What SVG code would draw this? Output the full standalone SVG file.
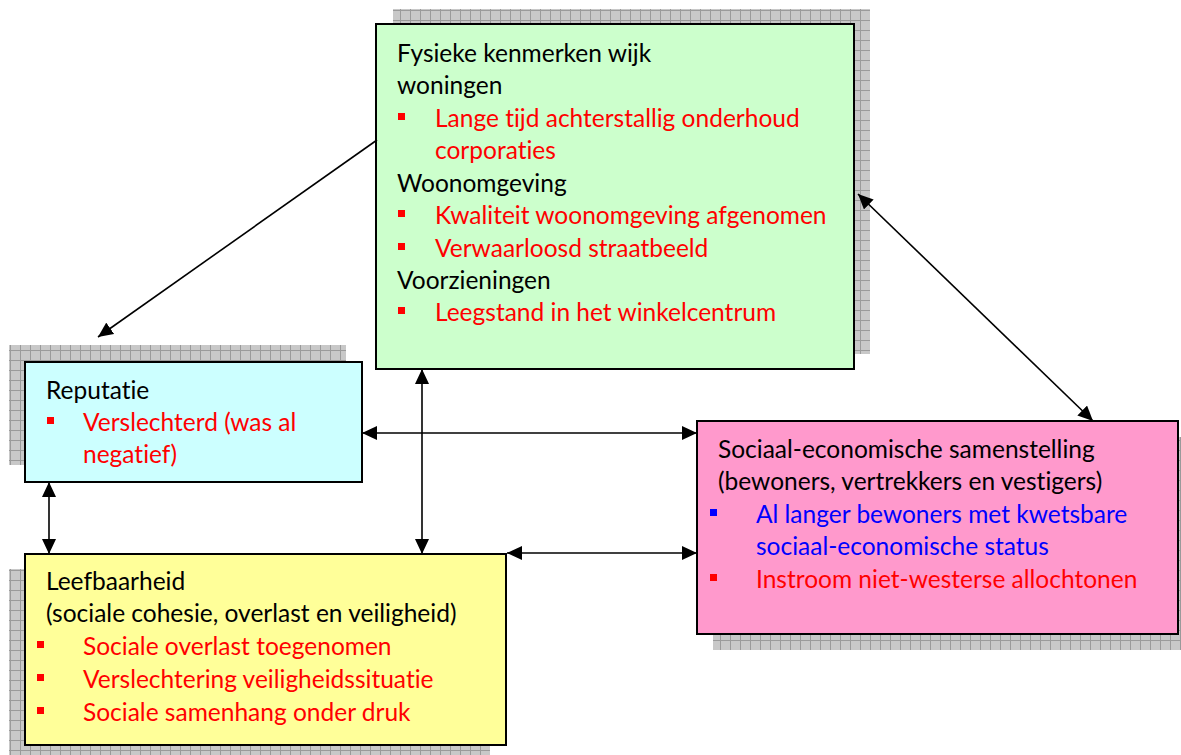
<svg xmlns="http://www.w3.org/2000/svg" width="1181" height="755" viewBox="0 0 1181 755">
<defs>
<pattern id="grid" width="10" height="10" patternUnits="userSpaceOnUse">
<rect width="10" height="10" fill="#c8c8c8"/>
<path d="M0,0.5 H10 M0.5,0 V10" stroke="#9a9a9a" stroke-width="1"/>
</pattern>
<marker id="ah" markerWidth="16" markerHeight="14" refX="15" refY="7" orient="auto-start-reverse" markerUnits="userSpaceOnUse">
<path d="M0,0 L15,7 L0,14 z" fill="#000"/>
</marker>
</defs>
<style>
.box{stroke:#000;stroke-width:2}
.sh{fill:url(#grid)}
text{font-family:Lato,"Open Sans",sans-serif;font-size:24.5px;font-variant-ligatures:none}
.k{fill:#000}
.r{fill:#ff0000}
.b{fill:#0000ff}
.bl{fill:#ff0000}
.bb{fill:#0000ff}
.con line{stroke:#000;stroke-width:1.6;marker-end:url(#ah)}
.con .two{marker-start:url(#ah)}
</style>
<rect width="1181" height="755" fill="#fff"/>

<g id="fysiek">
<rect class="sh" x="393" y="9" width="477" height="345"/>
<rect class="box" x="376" y="24" width="478" height="345" fill="#ccffcc"/>
<text class="k" x="397" y="62">Fysieke kenmerken wijk</text>
<text class="k" x="397" y="94">woningen</text>
<rect class="bl" x="398" y="113" width="7" height="7"/>
<text class="r" x="435" y="127">Lange tijd achterstallig onderhoud</text>
<text class="r" x="435" y="159">corporaties</text>
<text class="k" x="397" y="192">Woonomgeving</text>
<rect class="bl" x="398" y="210" width="7" height="7"/>
<text class="r" x="435" y="224">Kwaliteit woonomgeving afgenomen</text>
<rect class="bl" x="398" y="243" width="7" height="7"/>
<text class="r" x="435" y="257">Verwaarloosd straatbeeld</text>
<text class="k" x="397" y="289">Voorzieningen</text>
<rect class="bl" x="398" y="307" width="7" height="7"/>
<text class="r" x="435" y="321">Leegstand in het winkelcentrum</text>
</g>

<g id="reputatie">
<rect class="sh" x="9" y="345" width="337" height="120"/>
<rect class="box" x="25" y="362" width="337" height="120" fill="#ccffff"/>
<text class="k" x="46" y="399">Reputatie</text>
<rect class="bl" x="47" y="417" width="7" height="7"/>
<text class="r" x="83" y="431">Verslechterd (was al</text>
<text class="r" x="83" y="463">negatief)</text>
</g>

<g id="leefbaarheid">
<rect class="sh" x="9" y="569" width="481" height="191"/>
<rect class="box" x="25" y="554" width="481" height="191" fill="#ffff99"/>
<text class="k" x="46" y="590">Leefbaarheid</text>
<text class="k" x="46" y="622">(sociale cohesie, overlast en veiligheid)</text>
<rect class="bl" x="37" y="641" width="7" height="7"/>
<text class="r" x="83" y="655">Sociale overlast toegenomen</text>
<rect class="bl" x="37" y="674" width="7" height="7"/>
<text class="r" x="83" y="688">Verslechtering veiligheidssituatie</text>
<rect class="bl" x="37" y="707" width="7" height="7"/>
<text class="r" x="83" y="721">Sociale samenhang onder druk</text>
</g>

<g id="sociaal">
<rect class="sh" x="713" y="437" width="481" height="213"/>
<rect class="box" x="697" y="421" width="481" height="213" fill="#ff99cc"/>
<text class="k" x="718" y="458">Sociaal-economische samenstelling</text>
<text class="k" x="718" y="490">(bewoners, vertrekkers en vestigers)</text>
<rect class="bb" x="710" y="509" width="7" height="7"/>
<text class="b" x="756" y="523">Al langer bewoners met kwetsbare</text>
<text class="b" x="756" y="555">sociaal-economische status</text>
<rect class="bl" x="710" y="574" width="7" height="7"/>
<text class="r" x="756" y="588">Instroom niet-westerse allochtonen</text>
</g>

<g id="connectors" class="con">
<line x1="377" y1="140" x2="98" y2="337"/>
<line class="two" x1="422" y1="369" x2="422" y2="554"/>
<line class="two" x1="362" y1="433" x2="697" y2="433"/>
<line class="two" x1="49" y1="482" x2="49" y2="554"/>
<line class="two" x1="507" y1="553" x2="697" y2="553"/>
<line class="two" x1="858" y1="194" x2="1093" y2="421"/>
</g>
</svg>
